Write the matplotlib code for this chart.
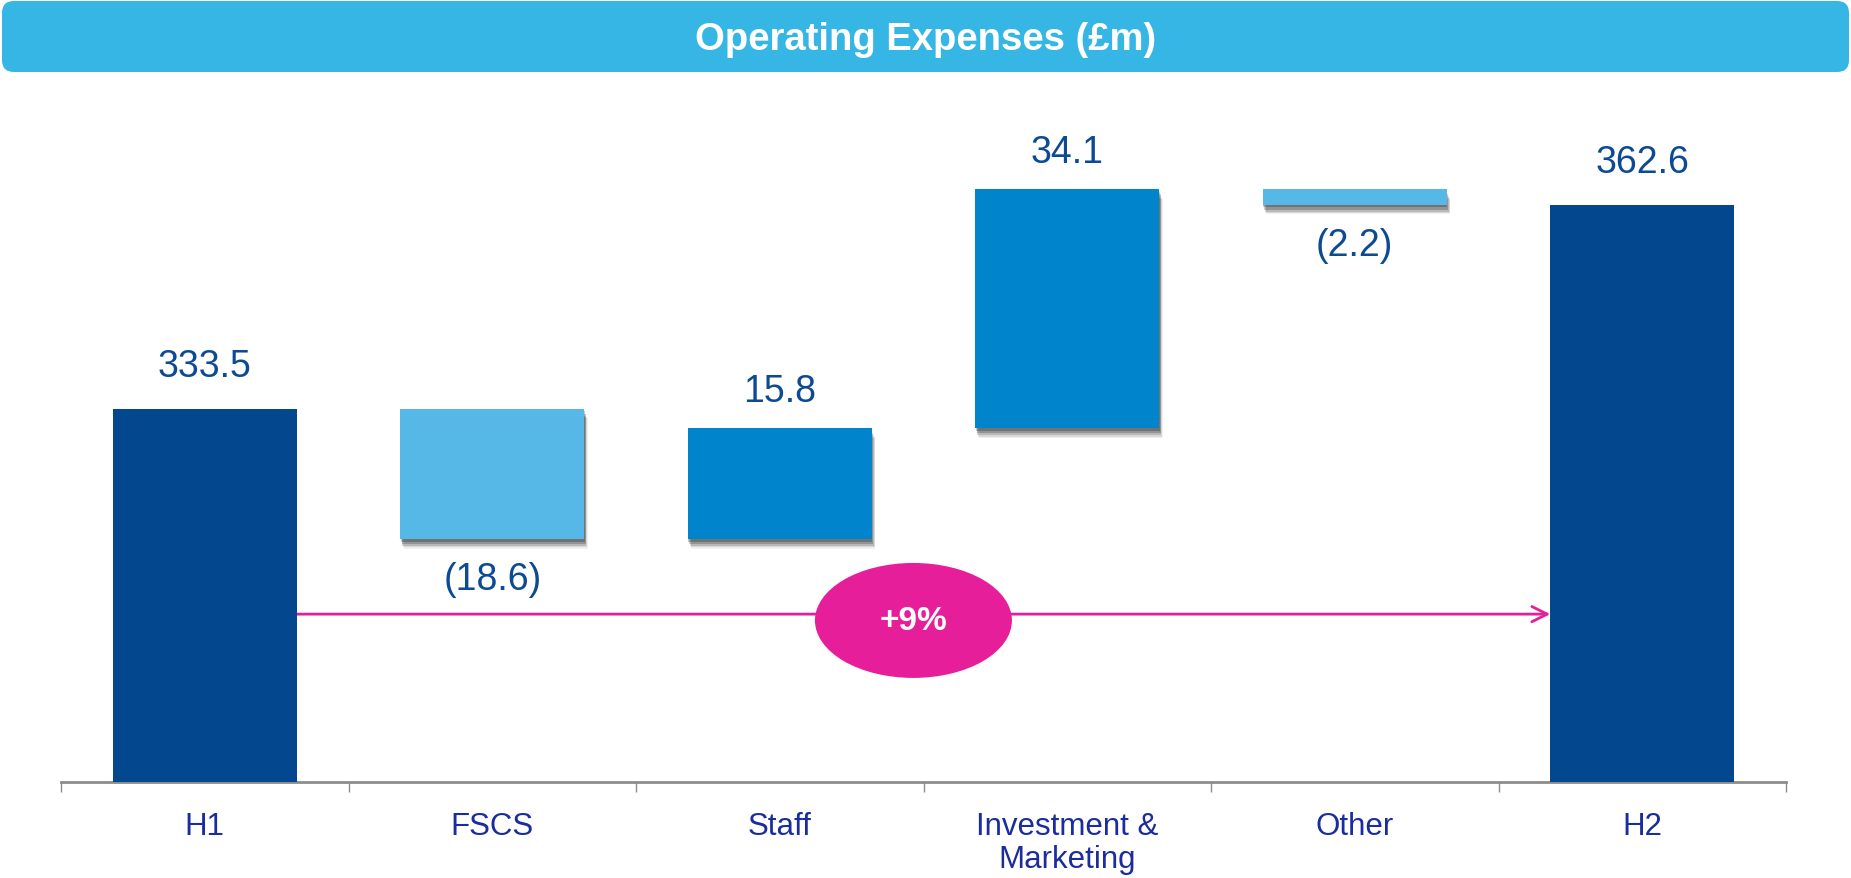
import matplotlib
matplotlib.use("Agg")
import matplotlib.pyplot as plt
from matplotlib.patches import FancyBboxPatch, Ellipse
import matplotlib.patheffects as pe

plt.rcParams['font.family'] = ['Liberation Sans', 'DejaVu Sans']

# ---- data ----
categories = ["H1", "FSCS", "Staff", "Investment &\nMarketing", "Other", "H2"]
changes = [333.5, -18.6, 15.8, 34.1, -2.2, 362.6]   # first and last are totals
value_labels = ["333.5", "(18.6)", "15.8", "34.1", "(2.2)", "362.6"]
bar_kinds = ["total", "down", "up", "up", "down", "total"]
growth_label = "+9%"
title = "Operating Expenses (£m)"

# ---- styles ----
colors = {"total": "#03488E", "up": "#0084CC", "down": "#55B8E7"}
label_color = "#0D4A94"
cat_color = "#1A2C9E"
pink = "#E61E9A"
banner_color = "#35B6E5"

W, H = 1851, 879
fig = plt.figure(figsize=(W / 100, H / 100), dpi=100)

# title banner
bax = fig.add_axes([0, 0, 1, 1])
bax.set_xlim(0, W)
bax.set_ylim(H, 0)
bax.axis("off")
bax.add_patch(FancyBboxPatch((2, 2), W - 4, 71,
                             boxstyle="round,pad=0,rounding_size=12",
                             fc=banner_color, ec="none"))
bax.text(W / 2, 40, title, color="white", fontsize=27.5, fontweight="bold",
         ha="center", va="center")

# main axes
ax = fig.add_axes([61 / W, 1 - 782.7 / H, (1786 - 61) / W, (782.7 - 90) / H])
ax.set_xlim(-0.5, len(categories) - 0.5)
ax.set_ylim(280.3, 379.1)

bw = 0.64
running = 0.0
shadow_fx = [
    pe.SimplePatchShadow(offset=(2.5, -7.0), shadow_rgbFace="#000000", alpha=0.06),
    pe.SimplePatchShadow(offset=(2.0, -6.0), shadow_rgbFace="#000000", alpha=0.10),
    pe.SimplePatchShadow(offset=(1.5, -5.0), shadow_rgbFace="#000000", alpha=0.14),
    pe.SimplePatchShadow(offset=(1.0, -3.5), shadow_rgbFace="#000000", alpha=0.20),
    pe.SimplePatchShadow(offset=(0.5, -2.0), shadow_rgbFace="#000000", alpha=0.22),
    pe.Normal(),
]
for i, (v, kind, lab) in enumerate(zip(changes, bar_kinds, value_labels)):
    if kind == "total":
        bottom, height = ax.get_ylim()[0], v - ax.get_ylim()[0]
        running = v
        top = v
        ax.bar(i, height, bottom=bottom, width=bw, color=colors[kind], zorder=3)
        ax.annotate(lab, (i, top), xytext=(0, 18), textcoords="offset points",
                    ha="center", va="bottom", fontsize=27, color=label_color)
    else:
        start = running
        end = running + v
        running = end
        lo, hi = min(start, end), max(start, end)
        b = ax.bar(i, hi - lo, bottom=lo, width=bw, color=colors[kind], zorder=3)
        for p in b.patches:
            p.set_path_effects(shadow_fx)
        if v >= 0:
            ax.annotate(lab, (i, hi), xytext=(0, 14), textcoords="offset points",
                        ha="center", va="bottom", fontsize=27, color=label_color)
        else:
            ax.annotate(lab, (i, lo), xytext=(0, -16), textcoords="offset points",
                        ha="center", va="top", fontsize=27, color=label_color)

# growth arrow
arrow_y = 304.2
ax.annotate("", xy=(len(categories) - 1 - bw / 2, arrow_y), xytext=(bw / 2, arrow_y),
            arrowprops=dict(arrowstyle="->,head_length=1.1,head_width=0.55",
                            color=pink, lw=2.0, shrinkA=0, shrinkB=0), zorder=2)
# ellipse badge
ex, ey = 2.465, 303.3
ell = Ellipse((ex, ey), width=197 / 287.5, height=115 / 7.013, fc=pink, ec="none", zorder=4)
ax.add_patch(ell)
ax.text(ex, ey, growth_label, color="white", fontsize=24, fontweight="bold",
        ha="center", va="center", zorder=5)

# axes styling
for s in ["top", "right", "left"]:
    ax.spines[s].set_visible(False)
ax.spines["bottom"].set_color("#8C8C8C")
ax.spines["bottom"].set_linewidth(2)
ax.set_yticks([])
ax.set_xticks(range(len(categories)))
ax.set_xticklabels(categories, fontsize=22.5, color=cat_color, linespacing=1.15)
ax.tick_params(axis="x", which="major", length=0, pad=21)
ax.set_xticks([i - 0.5 for i in range(len(categories) + 1)], minor=True)
ax.tick_params(axis="x", which="minor", length=7, width=1, color="#8C8C8C")
for t in ax.get_xticklabels():
    t.set_verticalalignment("top")

fig.savefig("out.png", dpi=100)
